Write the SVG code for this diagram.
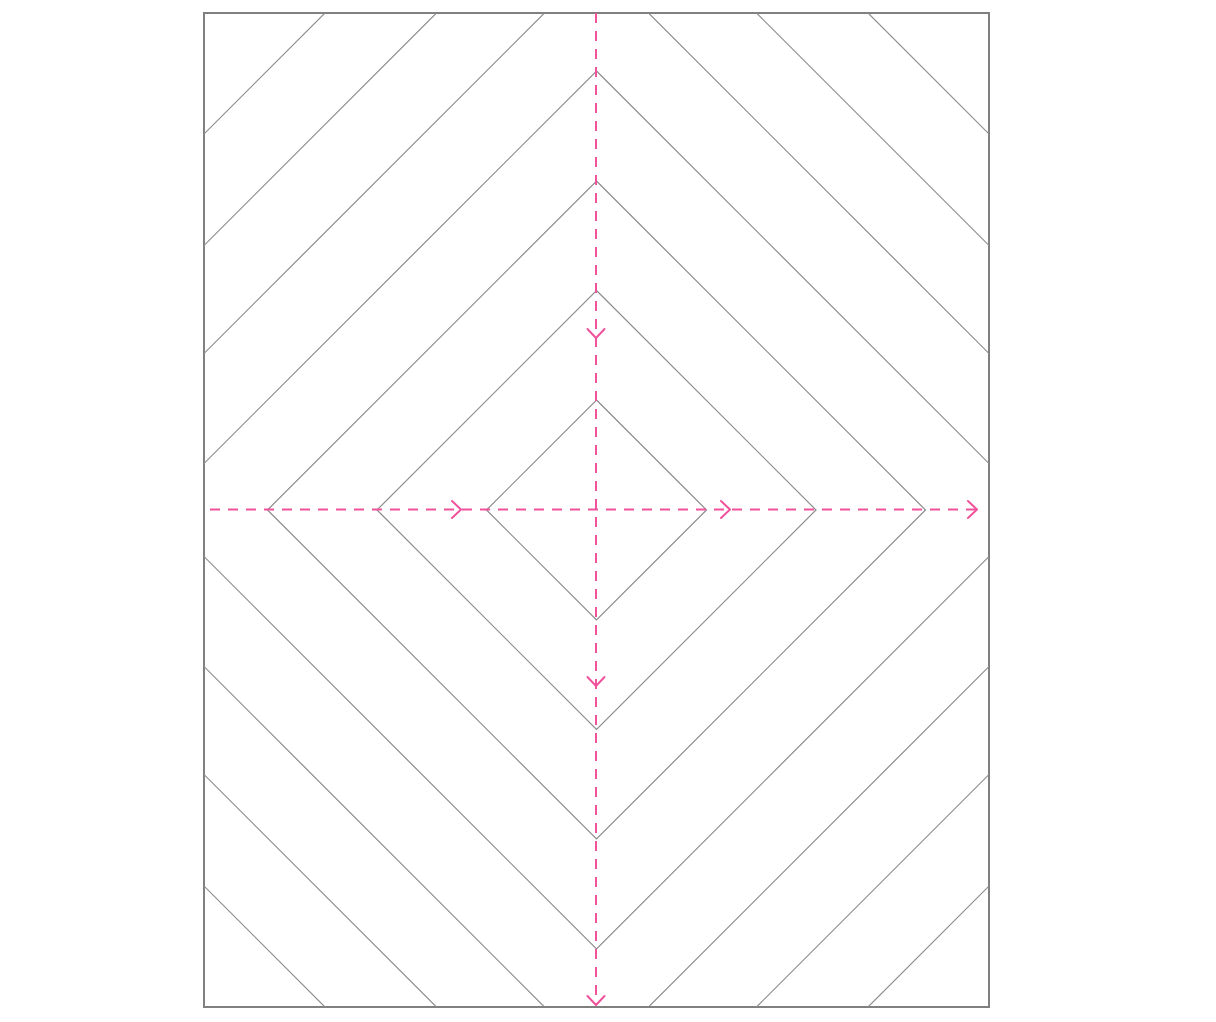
<svg xmlns="http://www.w3.org/2000/svg" width="1216" height="1022" viewBox="0 0 1216 1022">
  <style>
    .frame { fill: #ffffff; stroke: #808080; stroke-width: 2; }
    .ring { fill: none; stroke: #8c8c8c; stroke-width: 1.2; }
    .flow { fill: none; stroke: #f0529c; stroke-width: 2; stroke-dasharray: 10 8; }
    .head { fill: none; stroke: #f0529c; stroke-width: 2; stroke-linecap: round; stroke-linejoin: round; }
  </style>
  <defs>
    <clipPath id="clip">
      <rect x="204" y="13" width="785" height="994"/>
    </clipPath>
  </defs>
  <rect x="0" y="0" width="1216" height="1022" fill="#ffffff"/>
  <rect id="frame" class="frame" x="204" y="13" width="785" height="994"/>
  <g id="rings" clip-path="url(#clip)">
    <polygon class="ring" points="596.5,400 706.5,510 596.5,620 486.5,510"/>
    <polygon class="ring" points="596.5,290.5 816,510 596.5,729.5 377,510"/>
    <polygon class="ring" points="596.5,181 925.5,510 596.5,839 267.5,510"/>
    <polygon class="ring" points="596.5,71 1035.5,510 596.5,949 157.5,510"/>
    <polygon class="ring" points="596.5,-39 1145.5,510 596.5,1059 47.5,510"/>
    <polygon class="ring" points="596.5,-147 1253.5,510 596.5,1167 -60.5,510"/>
    <polygon class="ring" points="596.5,-258.5 1365,510 596.5,1278.5 -172,510"/>
  </g>
  <g id="connectors">
    <line class="flow" x1="210" y1="509.5" x2="977" y2="509.5"/>
    <line class="flow" x1="596" y1="13" x2="596" y2="1005"/>
    <polyline class="head" points="452,501 461,509.5 452,518"/>
    <polyline class="head" points="721,501 730,509.5 721,518"/>
    <polyline class="head" points="968,501 977,509.5 968,518"/>
    <polyline class="head" points="587.5,329 596,338 604.5,329"/>
    <polyline class="head" points="587.5,677 596,686 604.5,677"/>
    <polyline class="head" points="587.5,996 596,1005 604.5,996"/>
  </g>
</svg>
